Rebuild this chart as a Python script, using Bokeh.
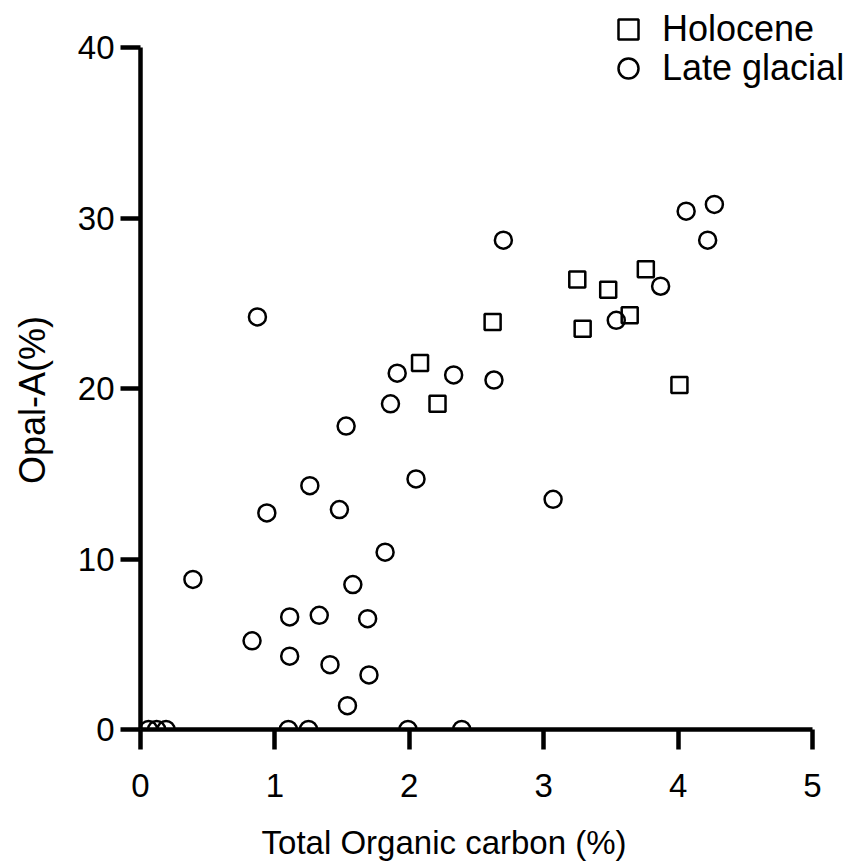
from bokeh.plotting import figure
from bokeh.models import Legend, LegendItem, FixedTicker, Range1d
from bokeh.embed import file_html
from bokeh.resources import INLINE

# Data
holocene_toc = [2.08, 2.21, 2.62, 3.25, 3.29, 3.48, 3.64, 3.76, 4.01]
holocene_opal = [21.5, 19.1, 23.9, 26.4, 23.5, 25.8, 24.3, 27.0, 20.2]

glacial_toc = [0.87, 4.06, 4.27, 4.22, 2.70, 3.87, 3.54, 1.91, 2.33, 2.63,
               1.86, 1.53, 2.05, 1.26, 0.94, 1.48, 3.07, 1.82, 0.39, 1.58,
               1.11, 1.33, 1.69, 0.83, 1.11, 1.41, 1.70, 1.54,
               0.06, 0.12, 0.19, 1.10, 1.25, 1.99, 2.39]
glacial_opal = [24.2, 30.4, 30.8, 28.7, 28.7, 26.0, 24.0, 20.9, 20.8, 20.5,
                19.1, 17.8, 14.7, 14.3, 12.7, 12.9, 13.5, 10.4, 8.8, 8.5,
                6.6, 6.7, 6.5, 5.2, 4.3, 3.8, 3.2, 1.4,
                0.0, 0.0, 0.0, 0.0, 0.0, 0.0, 0.0]

x_ticks = [0, 1, 2, 3, 4, 5]
y_ticks = [0, 10, 20, 30, 40]
x_axis_bounds = (0, 5)
y_axis_bounds = (0, 40)

FONT = "Liberation Sans"
NB = "\u00a0"

p = figure(width=848, height=854, output_backend="svg", toolbar_location=None,
           x_range=Range1d(0, 5.268), y_range=Range1d(0, 42.76),
           min_border_left=140, min_border_right=0,
           min_border_top=0, min_border_bottom=125)
p.frame_width = 708
p.frame_height = 729

p.grid.visible = False
p.outline_line_color = None
p.background_fill_color = "white"
p.border_fill_color = "white"

for ax in (p.xaxis[0], p.yaxis[0]):
    ax.axis_line_width = 4.5
    ax.axis_line_color = "black"
    ax.major_tick_line_width = 4.5
    ax.major_tick_line_color = "black"
    ax.major_tick_out = 20
    ax.major_tick_in = 0
    ax.minor_tick_line_color = None
    ax.major_label_text_font = FONT
    ax.major_label_text_font_size = "33px"
    ax.major_label_text_color = "black"
    ax.axis_label_text_font = FONT
    ax.axis_label_text_font_style = "normal"
    ax.axis_label_text_color = "black"

p.xaxis.axis_label_text_font_size = "33px"
p.yaxis.axis_label_text_font_size = "36px"
p.xaxis.bounds = x_axis_bounds
p.yaxis.bounds = y_axis_bounds
p.xaxis.ticker = FixedTicker(ticks=x_ticks)
p.yaxis.ticker = FixedTicker(ticks=y_ticks)
# trailing non-breaking spaces shift the centred labels to where the reference has them
p.xaxis.axis_label = "Total Organic carbon (%)" + NB * 11
p.yaxis.axis_label = "Opal-A(%)" + NB * 7
p.xaxis.major_label_standoff = 24
p.yaxis.major_label_standoff = 6
p.xaxis.axis_label_standoff = 24
p.yaxis.axis_label_standoff = 22

r_h = p.scatter(holocene_toc, holocene_opal, marker="square", size=16,
                fill_color=None, line_color="black", line_width=2.5)
r_g = p.scatter(glacial_toc, glacial_opal, marker="circle", size=17,
                fill_color=None, line_color="black", line_width=2.5)


def make_legend(label, renderer, offset_y):
    lg = Legend(items=[LegendItem(label=label, renderers=[renderer])],
                location=(463, offset_y))
    lg.label_text_font = FONT
    lg.label_text_font_size = "36px"
    lg.label_text_color = "black"
    lg.border_line_color = None
    lg.background_fill_alpha = 0
    lg.glyph_width = 50
    lg.glyph_height = 50
    lg.padding = 0
    lg.margin = 0
    lg.label_standoff = 9
    return lg


p.add_layout(make_legend("Holocene", r_h, 675), "center")
p.add_layout(make_legend("Late glacial", r_g, 636), "center")

open("out.html", "w").write(file_html(p, INLINE))
